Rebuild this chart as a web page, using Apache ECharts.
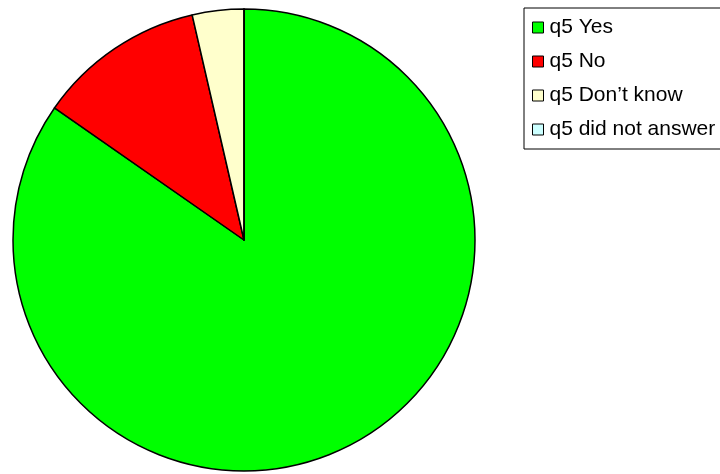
<!DOCTYPE html>
<html>
<head>
<meta charset="utf-8">
<script src="https://cdn.jsdelivr.net/npm/echarts@6/dist/echarts.min.js"></script>
<style>
  html, body { margin: 0; padding: 0; background: #fff; }
  #chart { width: 720px; height: 474px; }
</style>
</head>
<body>
<div id="chart"></div>
<script>
// answers to q5
const categories = ['q5 Yes', 'q5 No', 'q5 Don\u2019t know', 'q5 did not answer']
const counts = [94, 13, 4, 0]
const colors = ['#00ff00', '#ff0000', '#ffffcc', '#ccffff']

const chart = echarts.init(document.getElementById('chart'))

chart.setOption({
  animation: false,
  legend: {
    orient: 'vertical',
    left: 524,
    top: 8,
    padding: [9, 60, 9, 8],
    itemGap: 13,
    itemWidth: 11,
    itemHeight: 11,
    icon: 'rect',
    borderColor: '#000',
    borderWidth: 1,
    itemStyle: { borderColor: '#000', borderWidth: 1 },
    textStyle: { fontFamily: 'Liberation Sans, Arial', fontSize: 21, lineHeight: 21, color: '#000', padding: [0, 0, 0, 1] },
    data: categories
  },
  series: [{
    type: 'pie',
    center: [244, 240],
    radius: 231,
    startAngle: 90,
    clockwise: true,
    label: { show: false },
    labelLine: { show: false },
    emphasis: { disabled: true },
    itemStyle: { borderColor: '#000', borderWidth: 1.5 },
    data: categories.map((name, i) => ({
      name,
      value: counts[i],
      itemStyle: { color: colors[i] }
    }))
  }]
})
</script>
</body>
</html>
